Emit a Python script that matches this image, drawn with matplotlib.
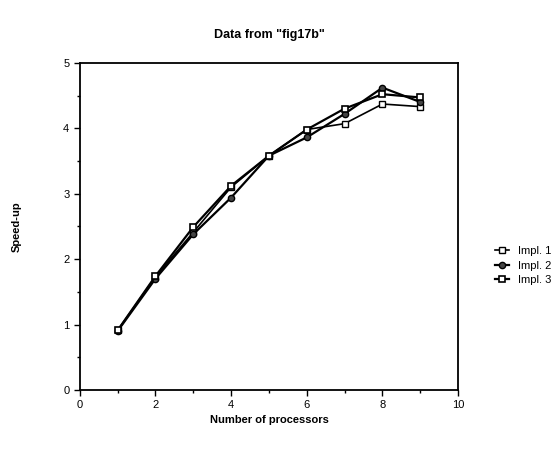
import matplotlib
matplotlib.use("Agg")
import matplotlib.pyplot as plt
from matplotlib.ticker import MultipleLocator

plt.rcParams['font.family'] = ['Liberation Sans', 'DejaVu Sans']

# data
processors = [1, 2, 3, 4, 5, 6, 7, 8, 9]
impl1 = [0.91, 1.73, 2.41, 3.10, 3.58, 3.98, 4.07, 4.37, 4.33]
impl2 = [0.90, 1.70, 2.38, 2.94, 3.58, 3.86, 4.22, 4.62, 4.40]
impl3 = [0.91, 1.74, 2.49, 3.12, 3.58, 3.98, 4.30, 4.52, 4.47]

fig = plt.figure(figsize=(5.54, 4.55), dpi=100)
ax = fig.add_axes([0.144, 0.143, 0.683, 0.719])

ax.plot(processors, impl1, color='black', lw=1.2, marker='s', ms=5,
        mfc='white', mec='black', mew=1.0, label='Impl. 1')
ax.plot(processors, impl2, color='black', lw=1.6, marker='o', ms=4.5,
        mfc='#444444', mec='black', mew=1.0, label='Impl. 2')
ax.plot(processors, impl3, color='black', lw=1.6, marker='s', ms=5,
        mfc='white', mec='black', mew=1.2, label='Impl. 3')

ax.set_xlim(0, 10)
ax.set_ylim(0, 5)
ax.xaxis.set_major_locator(MultipleLocator(2))
ax.xaxis.set_minor_locator(MultipleLocator(1))
ax.yaxis.set_major_locator(MultipleLocator(1))
ax.yaxis.set_minor_locator(MultipleLocator(0.5))
ax.tick_params(which='both', direction='out', labelsize=8, width=1)
ax.tick_params(which='major', length=4)
ax.tick_params(which='minor', length=2.5)
ax.tick_params(axis='x', top=False)
ax.tick_params(axis='y', right=False)
for s in ax.spines.values():
    s.set_linewidth(1.3)

ax.set_title('Data from "fig17b"', fontsize=9, fontweight='bold', pad=18)
ax.set_xlabel('Number of processors', fontsize=8, fontweight='bold', labelpad=3)
ax.set_ylabel('Speed-up', fontsize=8, fontweight='bold', labelpad=30)

ax.legend(loc='center left', bbox_to_anchor=(1.07, 0.38), frameon=False,
          fontsize=8, handlelength=1.3, handletextpad=0.8, labelspacing=0.4)

fig.savefig('out.png', dpi=100)
